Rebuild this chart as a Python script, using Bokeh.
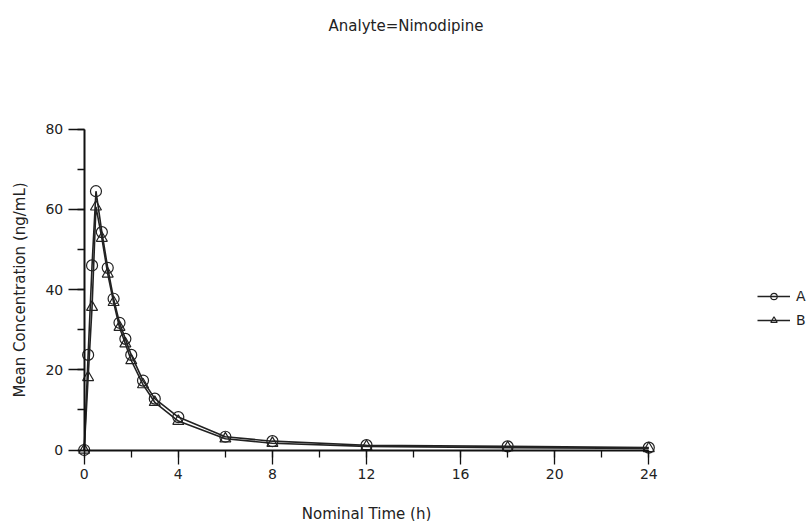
from bokeh.plotting import figure
from bokeh.models import (Range1d, LinearAxis, SingleIntervalTicker, Legend,
                          LegendItem, Label)
from bokeh.embed import file_html
from bokeh.resources import INLINE

# ---- data ----
time_h = [0, 0.1667, 0.3333, 0.5, 0.75, 1, 1.25, 1.5, 1.75, 2, 2.5, 3, 4, 6, 8, 12, 18, 24]
conc_A = [0, 23.7, 46.0, 64.5, 54.3, 45.4, 37.7, 31.7, 27.7, 23.7, 17.3, 12.8, 8.2, 3.3, 2.2, 1.2, 0.9, 0.6]
conc_B = [0, 18.1, 35.6, 60.6, 52.8, 43.9, 36.8, 30.6, 26.5, 22.3, 16.3, 11.9, 7.2, 2.8, 1.7, 0.9, 0.6, 0.4]
series_labels = ["A", "B"]
title_text = "Analyte=Nimodipine"
x_label = "Nominal Time (h)"
y_label = "Mean Concentration (ng/mL)"

FONT = "DejaVu Sans"
W, H = 808, 521
sx = (648.3 - 83.7) / 24.0
sy = (449.5 - 128.5) / 80.0
x0 = -83.7 / sx
x1 = x0 + W / sx
y0 = -(H - 449.5) / sy
y1 = y0 + H / sy

p = figure(width=W, height=H, x_range=Range1d(x0, x1), y_range=Range1d(y0, y1),
           output_backend="svg", toolbar_location=None,
           x_axis_type=None, y_axis_type=None,
           min_border_left=0, min_border_right=0, min_border_top=0,
           min_border_bottom=0)
p.outline_line_color = None
p.background_fill_color = "white"
p.border_fill_color = "white"
p.xgrid.visible = False
p.ygrid.visible = False

xax = LinearAxis(fixed_location=0, bounds=(0, 24),
                 ticker=SingleIntervalTicker(interval=4, num_minor_ticks=2),
                 axis_label=x_label)
yax = LinearAxis(fixed_location=0, bounds=(0, 80),
                 ticker=SingleIntervalTicker(interval=20, num_minor_ticks=2),
                 axis_label=y_label)
for ax, mt, lst in ((xax, 14, 22), (yax, 16, 14)):
    ax.axis_line_width = 2
    ax.axis_line_color = "#111"
    ax.major_tick_out = mt
    ax.major_tick_in = 0
    ax.minor_tick_out = 7
    ax.minor_tick_in = 0
    ax.major_tick_line_width = 1.3
    ax.minor_tick_line_width = 1.3
    ax.major_tick_line_color = "#111"
    ax.minor_tick_line_color = "#111"
    ax.major_label_text_font = FONT
    ax.major_label_text_font_size = "14px"
    ax.major_label_text_color = "#222"
    ax.major_label_standoff = 5
    ax.axis_label_text_font = FONT
    ax.axis_label_text_font_size = "15px"
    ax.axis_label_text_font_style = "normal"
    ax.axis_label_text_color = "#222"
    ax.axis_label_standoff = lst
p.add_layout(xax, "below")
p.add_layout(yax, "left")

la = p.line(time_h, conc_A, line_color="#222", line_width=1.6)
sa = p.scatter(time_h, conc_A, marker="circle", size=11, fill_color=None,
               line_color="#222", line_width=1.2)
lb = p.line(time_h, conc_B, line_color="#222", line_width=1.6)
sb = p.scatter(time_h, conc_B, marker="triangle", size=11, fill_color=None,
               line_color="#222", line_width=1.2)

legend = Legend(items=[LegendItem(label=series_labels[0], renderers=[la, sa]),
                       LegendItem(label=series_labels[1], renderers=[lb, sb])],
                location=(757, H - 328), orientation="vertical",
                glyph_width=33, glyph_height=16, spacing=8, label_standoff=6,
                padding=0, margin=0, border_line_color=None,
                background_fill_alpha=0,
                label_text_font=FONT, label_text_font_size="14px",
                label_text_color="#222")
p.add_layout(legend, "center")

title = Label(x=405.5, y=H - 25, x_units="screen", y_units="screen",
              text=title_text, text_align="center", text_baseline="middle",
              text_font=FONT, text_font_size="15px", text_color="#222")
p.add_layout(title)

open("out.html", "w").write(file_html(p, INLINE))
